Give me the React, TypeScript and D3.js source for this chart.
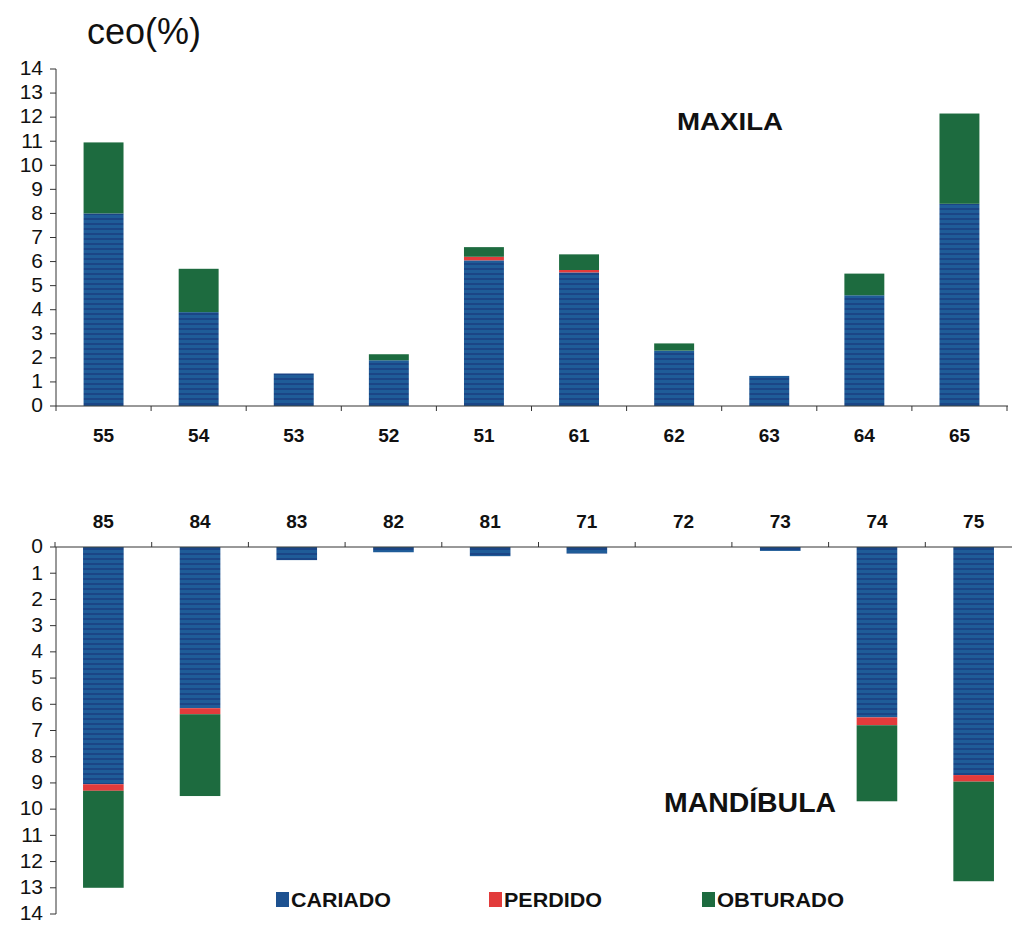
import React from "react";
import * as d3 from "d3";

// ---- Data ----
const maxilaTeeth = ["55", "54", "53", "52", "51", "61", "62", "63", "64", "65"];
const maxilaCariado = [8.0, 3.9, 1.35, 1.9, 6.05, 5.55, 2.3, 1.25, 4.6, 8.4];
const maxilaPerdido = [0, 0, 0, 0, 0.15, 0.1, 0, 0, 0, 0];
const maxilaObturado = [2.95, 1.8, 0, 0.25, 0.4, 0.65, 0.3, 0, 0.9, 3.75];

const mandTeeth = ["85", "84", "83", "82", "81", "71", "72", "73", "74", "75"];
const mandCariado = [9.05, 6.15, 0.5, 0.2, 0.35, 0.25, 0, 0.15, 6.5, 8.7];
const mandPerdido = [0.25, 0.23, 0, 0, 0, 0, 0, 0, 0.3, 0.25];
const mandObturado = [3.7, 3.12, 0, 0, 0, 0, 0, 0, 2.9, 3.8];

const yTicks = d3.range(0, 15);
const seriesNames = ["CARIADO", "PERDIDO", "OBTURADO"];

const BLUE = "url(#bluePattern)";
const BLUE_SOLID = "#1d5190";
const RED = "#e23b3b";
const GREEN = "#1d6b3f";
const seriesColors = [BLUE, RED, GREEN];
const legendColors = [BLUE_SOLID, RED, GREEN];

const FONT = "'Liberation Sans', Arial, Helvetica, sans-serif";
const AXIS = "#333";

type Panel = {
  teeth: string[];
  values: number[][];
  x: d3.ScaleBand<string>;
  y: d3.ScaleLinear<number, number>;
  axisY: number;
  axisX: number;
  axisEnd: number;
  tickDir: number;
  labelY: number;
};

function stacks(values: number[][], n: number) {
  const out: { s: number; i: number; y0: number; y1: number }[] = [];
  for (let i = 0; i < n; i++) {
    let acc = 0;
    values.forEach((arr, s) => {
      const v = arr[i];
      if (v > 0) out.push({ s, i, y0: acc, y1: acc + v });
      acc += v;
    });
  }
  return out;
}

function PanelView({ p }: { p: Panel }) {
  const segs = stacks(p.values, p.teeth.length);
  const step = p.x.step();
  const r0 = p.x.range()[0];
  const boundaries = d3.range(0, p.teeth.length + 1).map((k) => r0 + k * step).filter((v) => v <= 1012);
  const [ymin, ymax] = [p.y(0), p.y(14)];
  return (
    <g>
      {segs.map((d, k) => {
        const ya = p.y(d.y0);
        const yb = p.y(d.y1);
        return (
          <rect
            key={k}
            x={p.x(p.teeth[d.i])}
            width={p.x.bandwidth()}
            y={Math.min(ya, yb)}
            height={Math.abs(yb - ya)}
            fill={seriesColors[d.s]}
          />
        );
      })}
      {/* y axis */}
      <line x1={p.axisX} x2={p.axisX} y1={ymin} y2={ymax} stroke={AXIS} strokeWidth={1} />
      {yTicks.map((t) => (
        <g key={t}>
          <line x1={p.axisX - 6} x2={p.axisX} y1={p.y(t)} y2={p.y(t)} stroke={AXIS} strokeWidth={1} />
          <text
            x={43}
            y={p.y(t)}
            dy="0.3em"
            textAnchor="end"
            fontFamily={FONT}
            fontSize={21}
            fill="#111"
          >
            {t}
          </text>
        </g>
      ))}
      {/* x axis */}
      <line x1={p.axisX} x2={p.axisEnd} y1={p.axisY} y2={p.axisY} stroke={AXIS} strokeWidth={1} />
      {boundaries.map((b, k) => (
        <line key={k} x1={b} x2={b} y1={p.axisY} y2={p.axisY + p.tickDir * 5} stroke={AXIS} strokeWidth={1} />
      ))}
      {p.teeth.map((t) => (
        <text
          key={t}
          x={(p.x(t) as number) + p.x.bandwidth() / 2}
          y={p.labelY}
          textAnchor="middle"
          fontFamily={FONT}
          fontWeight="bold"
          fontSize={19}
          fill="#111"
        >
          {t}
        </text>
      ))}
    </g>
  );
}

export default function App() {
  const xTop = d3.scaleBand<string>().domain(maxilaTeeth).range([56, 1007]).paddingInner(0.58).paddingOuter(0.29);
  const yTop = d3.scaleLinear().domain([0, 14]).range([406, 69]);
  const xBot = d3.scaleBand<string>().domain(mandTeeth).range([55, 1022]).paddingInner(0.58).paddingOuter(0.29);
  const yBot = d3.scaleLinear().domain([0, 14]).range([547, 914]);

  const top: Panel = {
    teeth: maxilaTeeth,
    values: [maxilaCariado, maxilaPerdido, maxilaObturado],
    x: xTop,
    y: yTop,
    axisY: yTop(0),
    axisX: 56,
    axisEnd: 1008,
    tickDir: 1,
    labelY: 442,
  };
  const bot: Panel = {
    teeth: mandTeeth,
    values: [mandCariado, mandPerdido, mandObturado],
    x: xBot,
    y: yBot,
    axisY: yBot(0),
    axisX: 56,
    axisEnd: 1012,
    tickDir: -1,
    labelY: 528,
  };

  const legendX = [276, 489, 702];
  const legendTextW = [100, 98, 127];

  return (
    <svg
      width={1012}
      height={926}
      style={{ position: "absolute", left: 0, top: 0, background: "#fff" }}
    >
      <defs>
        <pattern id="bluePattern" width={8} height={5} patternUnits="userSpaceOnUse">
          <rect width={8} height={5} fill="#1f5c98" />
          <rect y={3} width={8} height={2} fill="#1b4586" />
        </pattern>
      </defs>
      <rect width={1012} height={926} fill="#fff" />
      <text x={87} y={44} fontFamily={FONT} fontSize={36} fill="#111">
        ceo(%)
      </text>
      <PanelView p={top} />
      <PanelView p={bot} />
      <text
        x={677}
        y={130}
        fontFamily={FONT}
        fontWeight="bold"
        fontSize={24}
        fill="#111"
        textLength={106}
        lengthAdjust="spacingAndGlyphs"
      >
        MAXILA
      </text>
      <text
        x={664}
        y={812}
        fontFamily={FONT}
        fontWeight="bold"
        fontSize={28}
        fill="#111"
        textLength={172}
        lengthAdjust="spacingAndGlyphs"
      >
        MANDÍBULA
      </text>
      {seriesNames.map((n, i) => (
        <g key={n}>
          <rect x={legendX[i]} y={892} width={13} height={15} fill={legendColors[i]} />
          <text
            x={legendX[i] + 15}
            y={907}
            fontFamily={FONT}
            fontWeight="bold"
            fontSize={20}
            fill="#111"
            textLength={legendTextW[i]}
            lengthAdjust="spacingAndGlyphs"
          >
            {n}
          </text>
        </g>
      ))}
    </svg>
  );
}
